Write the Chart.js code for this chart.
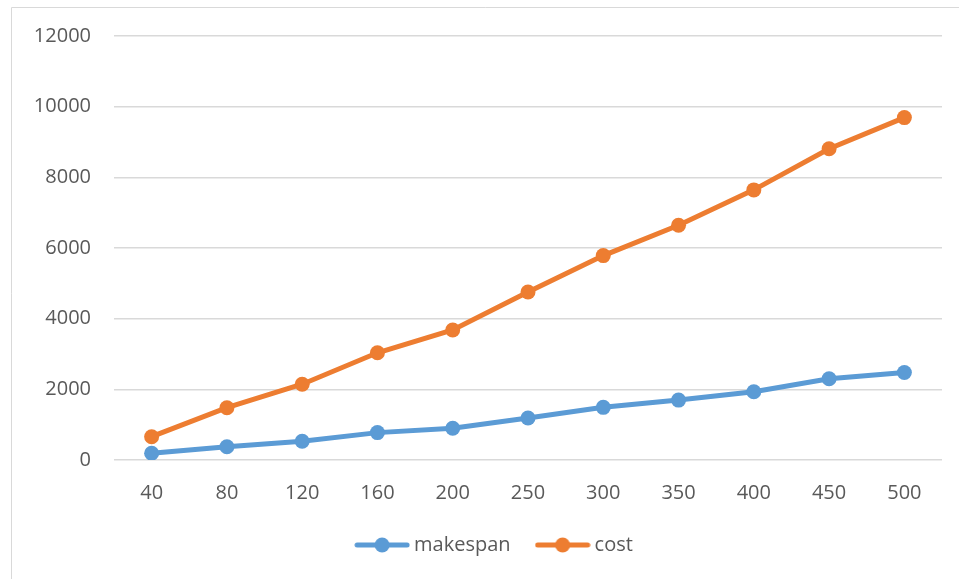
<!DOCTYPE html>
<html>
<head>
<meta charset="utf-8">
<script src="https://cdn.jsdelivr.net/npm/chart.js@4/dist/chart.umd.min.js"></script>
<style>
  html, body { margin: 0; padding: 0; background: #ffffff; }
  #wrap { position: absolute; left: 0; top: 0; width: 959px; height: 579px; }
</style>
</head>
<body>
<div id="wrap"><canvas id="chart" width="959" height="579"></canvas></div>
<script>
// Task counts on the x axis
const categories = ['40', '80', '120', '160', '200', '250', '300', '350', '400', '450', '500'];
// Series values
const makespan = [190, 375, 530, 775, 900, 1190, 1490, 1695, 1930, 2300, 2475];
const cost = [660, 1480, 2145, 3035, 3680, 4755, 5785, 6645, 7645, 8810, 9690];
// Value axis range
const yMin = 0;
const yMax = 12000;
const yStep = 2000;

const BLUE = '#5B9BD5';
const ORANGE = '#ED7D31';
const TEXT = '#595959';
const GRID = '#d9d9d9';
const FONT = { family: '"Open Sans", "Liberation Sans", sans-serif', size: 20 };

// Legend swatch: a short thick line with a round marker in the middle
function swatch(color) {
  const c = document.createElement('canvas');
  c.width = 56; c.height = 16;
  const g = c.getContext('2d');
  g.strokeStyle = color;
  g.lineWidth = 5;
  g.lineCap = 'round';
  g.beginPath(); g.moveTo(3, 8); g.lineTo(53, 8); g.stroke();
  g.fillStyle = color;
  g.beginPath(); g.arc(28, 8, 7.5, 0, Math.PI * 2); g.fill();
  return c;
}
const swatches = [swatch(BLUE), swatch(ORANGE)];

// Thin frame on the left and top edges
const framePlugin = {
  id: 'frame',
  beforeDraw(chart) {
    const ctx = chart.ctx;
    ctx.save();
    ctx.strokeStyle = GRID;
    ctx.lineWidth = 1;
    ctx.beginPath();
    ctx.moveTo(11.5, chart.height);
    ctx.lineTo(11.5, 7.5);
    ctx.lineTo(chart.width, 7.5);
    ctx.stroke();
    ctx.restore();
  }
};

// Nudge the legend row a little to the right of the canvas centre
const legendShift = {
  id: 'legendShift',
  afterLayout(chart) {
    if (chart.legend) {
      chart.legend.left += 25.5;
      chart.legend.right += 25.5;
    }
  }
};

new Chart(document.getElementById('chart'), {
  type: 'line',
  data: {
    labels: categories,
    datasets: [
      {
        label: 'makespan',
        data: makespan,
        borderColor: BLUE,
        backgroundColor: BLUE,
        borderWidth: 5,
        pointRadius: 7.5,
        pointBorderWidth: 0,
        pointBackgroundColor: BLUE,
        tension: 0
      },
      {
        label: 'cost',
        data: cost,
        borderColor: ORANGE,
        backgroundColor: ORANGE,
        borderWidth: 5,
        pointRadius: 7.5,
        pointBorderWidth: 0,
        pointBackgroundColor: ORANGE,
        tension: 0
      }
    ]
  },
  options: {
    responsive: false,
    animation: false,
    devicePixelRatio: 1,
    layout: {
      autoPadding: false,
      padding: { left: 0, right: 17, top: 36, bottom: 14 }
    },
    scales: {
      x: {
        offset: true,
        grid: { display: false, drawTicks: false },
        border: { display: false },
        ticks: { color: TEXT, font: FONT, padding: 21, maxRotation: 0, autoSkip: false },
        afterFit(scale) { scale.height = 45; }
      },
      y: {
        min: yMin,
        max: yMax,
        grid: { color: GRID, lineWidth: 1.5, drawTicks: false },
        border: { display: false },
        ticks: {
          stepSize: yStep,
          color: TEXT,
          font: FONT,
          padding: 23,
          callback: (v) => String(v)
        },
        afterFit(scale) { scale.width = 114; }
      }
    },
    plugins: {
      tooltip: { enabled: false },
      legend: {
        position: 'bottom',
        labels: {
          color: TEXT,
          font: FONT,
          usePointStyle: true,
          pointStyleWidth: 44,
          padding: 30,
          generateLabels(chart) {
            const items = Chart.defaults.plugins.legend.labels.generateLabels(chart);
            items.forEach((it, i) => { it.pointStyle = swatches[i]; });
            return items;
          }
        }
      }
    }
  },
  plugins: [framePlugin, legendShift]
});
</script>
</body>
</html>
